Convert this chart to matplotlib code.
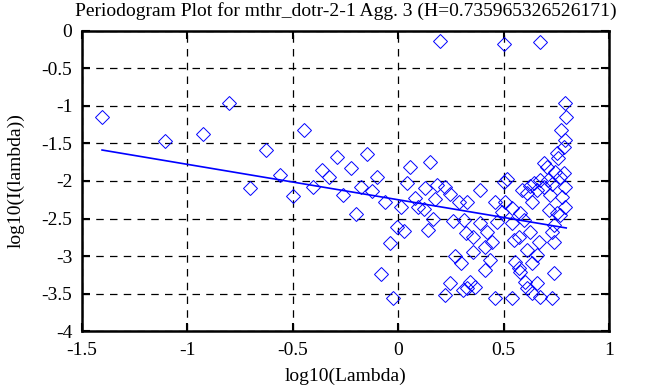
import matplotlib
matplotlib.use("Agg")
import matplotlib.pyplot as plt
import numpy as np

plt.rcParams['font.family'] = ['Liberation Serif', 'DejaVu Serif']
plt.rcParams['axes.unicode_minus'] = False

# Periodogram points (log10 lambda, log10 I(lambda))
log_lambda = [
    -1.405, -1.106, -0.925, -0.802, -0.704, -0.626, -0.560, -0.501, -0.449, -0.406,
    -0.363, -0.327, -0.291, -0.260, -0.226, -0.199, -0.178, -0.149, -0.125, -0.103,
    -0.063, -0.082, -0.041, -0.025, -0.006, 0.028, 0.014, 0.041, 0.057, 0.081,
    0.096, 0.120, 0.128, 0.152, 0.184, 0.176, 0.163, 0.141, 0.199, 0.223,
    0.247, 0.286, 0.262, 0.323, 0.267, 0.298, 0.247, 0.223, 0.305, 0.310,
    0.326, 0.389, 0.460, 0.508, 0.492, 0.540, 0.500, 0.517, 0.587, 0.635,
    0.658, 0.690, 0.721, 0.713, 0.753, 0.769, 0.745, 0.674, 0.642, 0.611,
    0.579, 0.595, 0.540, 0.468, 0.389, 0.357, 0.421, 0.445, 0.413, 0.357,
    0.437, 0.413, 0.547, 0.571, 0.626, 0.666, 0.737, 0.611, 0.658, 0.555,
    0.571, 0.635, 0.579, 0.737, 0.342, 0.326, 0.365, 0.603, 0.658, 0.611,
    0.635, 0.674, 0.729, 0.460, 0.540, 0.500, 0.674, 0.793, 0.797, 0.772,
    0.793, 0.785, 0.753, 0.759, 0.693, 0.706, 0.785, 0.793, 0.777, 0.793,
    0.769, 0.737, 0.729, 0.712, 0.731, 0.626,
]
log_power = [
    -1.147, -1.473, -1.367, -0.956, -2.087, -1.583, -1.917, -2.204, -1.323, -2.076,
    -1.849, -1.943, -1.676, -2.180, -1.831, -2.443, -2.076, -1.640, -2.129, -1.951,
    -2.284, -3.240, -2.823, -3.556, -2.609, -2.667, -2.343, -2.023, -1.809, -2.231,
    -2.343, -2.377, -2.097, -1.743, -2.053, -2.240, -2.511, -2.653, -0.133, -2.076,
    -2.173, -2.276, -2.529, -2.697, -3.000, -3.097, -3.356, -3.520, -3.453, -2.520,
    -2.276, -2.120, -2.276, -2.276, -2.409, -2.364, -2.009, -1.973, -2.120, -2.276,
    -2.120, -2.076, -2.187, -2.387, -2.431, -1.943, -1.876, -1.987, -2.031, -2.164,
    -2.431, -2.520, -2.564, -2.543, -2.564, -2.743, -2.676, -2.809, -2.876, -2.943,
    -3.053, -3.187, -2.787, -2.743, -2.676, -2.809, -2.809, -2.920, -2.987, -3.076,
    -3.164, -3.097, -3.209, -3.231, -3.343, -3.431, -3.409, -3.343, -3.364, -3.431,
    -3.497, -3.543, -3.564, -3.564, -3.564, -0.173, -0.143, -0.956, -1.151, -1.320,
    -1.453, -1.543, -1.631, -1.693, -1.756, -1.809, -1.897, -2.076, -2.209, -2.343,
    -2.453, -2.587, -2.676, -1.987, -2.040, -2.067,
]

H = 0.735965326526171
slope = 1 - 2 * H
intercept = -2.25

x_ticks = [-1.5, -1, -0.5, 0, 0.5, 1]
x_labels = ['-1.5', '-1', '-0.5', '0', '0.5', '1']
y_ticks = [0, -0.5, -1, -1.5, -2, -2.5, -3, -3.5, -4]
y_labels = ['0', '-0.5', '-1', '-1.5', '-2', '-2.5', '-3', '-3.5', '-4']

fig = plt.figure(figsize=(6.68, 3.87), dpi=100)
ax = fig.add_axes([0.1228, 0.1447, 0.7889, 0.7752])

ax.plot(log_lambda, log_power, linestyle='none', marker='D', markersize=6.8,
        markerfacecolor='none', markeredgecolor='blue', markeredgewidth=0.7)

# fitted line, slope = 1 - 2H
xs = np.array([min(log_lambda), max(log_lambda)])
ax.plot(xs, intercept + slope * xs, color='blue', linewidth=1.2)

ax.set_xlim(-1.5, 1)
ax.set_ylim(-4, 0)
ax.set_xticks(x_ticks)
ax.set_xticklabels(x_labels)
ax.set_yticks(y_ticks)
ax.set_yticklabels(y_labels)
ax.tick_params(direction='in', length=6, width=1.5, top=True, right=True,
               labelsize=14, colors='black')
ax.tick_params(axis='x', pad=8)
ax.tick_params(axis='y', pad=7)
ax.grid(True, color='black', linestyle=(0, (6, 5)), linewidth=0.9)
for s in ax.spines.values():
    s.set_linewidth(1.8)

ax.set_xlabel('log10(Lambda)', fontsize=14, labelpad=6)
ax.set_ylabel('log10(I(lambda))', fontsize=14, labelpad=12)
fig.text(0.517, 1 - 11 / 387,
         'Periodogram Plot for mthr_dotr-2-1 Agg. 3 (H=%s)' % H,
         fontsize=14, ha='center', va='center')

fig.savefig('out.png', dpi=100)
